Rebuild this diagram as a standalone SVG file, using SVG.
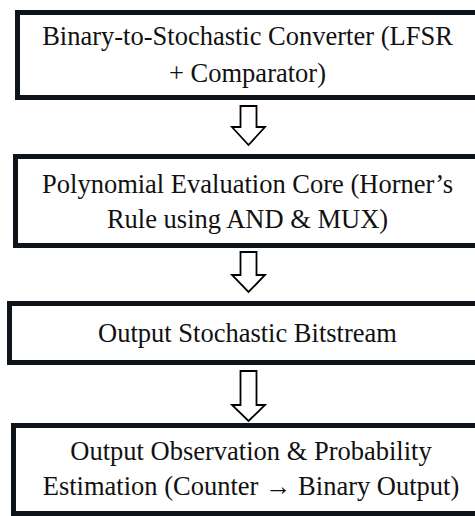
<svg xmlns="http://www.w3.org/2000/svg" width="475" height="516" viewBox="0 0 475 516">
  <style>
    .box { fill: #ffffff; stroke: #0f141b; stroke-width: 5; }
    .lbl { font-size: 26.5px; fill: #111111; text-anchor: middle; }
    .arrow { fill: #ffffff; stroke: #000000; stroke-width: 1.8; stroke-linejoin: miter; }
  </style>
  <rect width="475" height="516" fill="#ffffff"/>

  <g id="node-converter">
    <rect class="box" x="17.5" y="12.5" width="480" height="85"/>
    <text class="lbl" font-family="Times New Roman, serif" x="247.5" y="45">Binary-to-Stochastic Converter (LFSR</text>
    <text class="lbl" font-family="Times New Roman, serif" x="247.5" y="82">+ Comparator)</text>
  </g>

  <g id="node-core">
    <rect class="box" x="15.5" y="156.5" width="480" height="89"/>
    <text class="lbl" font-family="Times New Roman, serif" x="247.5" y="193">Polynomial Evaluation Core (Horner’s</text>
    <text class="lbl" font-family="Times New Roman, serif" x="247.5" y="228">Rule using AND &amp; MUX)</text>
  </g>

  <g id="node-bitstream">
    <rect class="box" x="9.5" y="303.5" width="480" height="59"/>
    <text class="lbl" font-family="Times New Roman, serif" x="247.5" y="342">Output Stochastic Bitstream</text>
  </g>

  <g id="node-estimation">
    <rect class="box" x="13.5" y="425.5" width="480" height="88"/>
    <text class="lbl" font-family="Times New Roman, serif" x="251" y="460">Output Observation &amp; Probability</text>
    <text class="lbl" font-family="Times New Roman, serif" x="251" y="495">Estimation (Counter → Binary Output)</text>
  </g>

  <g id="connectors">
    <path class="arrow" d="M240.5,106 V127 H232 L248.5,145 L265,127 H256.5 V106 Z"/>
    <path class="arrow" d="M240.5,252 V275 H232 L248.5,292 L265,275 H256.5 V252 Z"/>
    <path class="arrow" d="M240.5,371 V405 H232 L248.5,421 L265,405 H256.5 V371 Z"/>
  </g>
</svg>
